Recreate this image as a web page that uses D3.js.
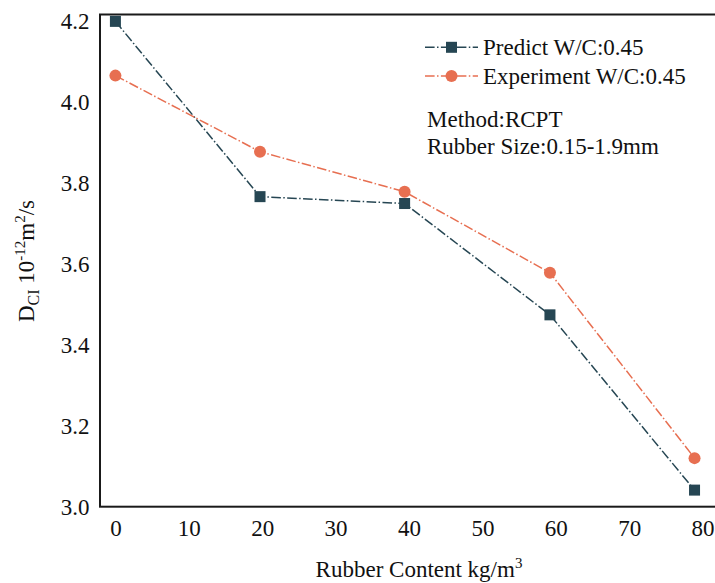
<!DOCTYPE html>
<html>
<head>
<meta charset="utf-8">
<script src="https://cdn.jsdelivr.net/npm/d3@7"></script>
<style>
  html, body { margin: 0; padding: 0; background: #fff; }
</style>
</head>
<body>
<svg id="chart" width="715" height="583" font-family="Liberation Serif"></svg>
<script>
// Rubber content (kg/m3) and chloride diffusion coefficient (1e-12 m2/s)
const rubberContent = [0, 19.7, 39.4, 59.2, 78.9];
const predictDCl = [4.199, 3.766, 3.749, 3.474, 3.041];
const experimentDCl = [4.065, 3.877, 3.778, 3.578, 3.120];
const xTicks = [0, 10, 20, 30, 40, 50, 60, 70, 80];
const yTicks = [3.0, 3.2, 3.4, 3.6, 3.8, 4.0, 4.2];
const seriesNames = ["Predict W/C:0.45", "Experiment W/C:0.45"];
const notes = ["Method:RCPT", "Rubber Size:0.15-1.9mm"];

const colPredict = "#264653";
const colExperiment = "#e76f51";
const serif = "Liberation Serif";

const svg = d3.select("#chart");
const plotLeft = 100, plotTop = 14.5, plotBottom = 506.7;

const x = d3.scaleLinear().domain([-2.1, 83]).range([plotLeft, plotLeft + 85.1 * 7.34]);
const y = d3.scaleLinear().domain([3.0, 4.216]).range([plotBottom, plotTop]);

const fs = 23;

// y tick labels
svg.append("g")
  .attr("transform", `translate(${plotLeft},0)`)
  .call(d3.axisLeft(y).tickValues(yTicks).tickFormat(d3.format(".1f")).tickSize(0).tickPadding(10.5))
  .call(g => g.select(".domain").remove())
  .call(g => g.attr("font-family", serif).attr("font-size", fs))
  .selectAll("text")
  .attr("fill", "#111");

// x tick labels
svg.append("g")
  .attr("transform", `translate(0,${plotBottom})`)
  .call(d3.axisBottom(x).tickValues(xTicks).tickFormat(d3.format("d")).tickSize(0).tickPadding(13))
  .call(g => g.select(".domain").remove())
  .call(g => g.attr("font-family", serif).attr("font-size", fs))
  .selectAll("text")
  .attr("fill", "#111");

// frame
svg.append("rect")
  .attr("x", plotLeft).attr("y", plotTop)
  .attr("width", 700).attr("height", plotBottom - plotTop)
  .attr("fill", "none").attr("stroke", "#1a1a1a").attr("stroke-width", 2);

const dashDot = "9.6,2.4,1.5,2.4";
const line = d3.line().x((d, i) => x(rubberContent[i])).y(d => y(d));

function drawSeries(vals, color, shape) {
  svg.append("path")
    .datum(vals)
    .attr("d", line)
    .attr("fill", "none")
    .attr("stroke", color)
    .attr("stroke-width", 1.5)
    .attr("stroke-dasharray", dashDot);
  const g = svg.append("g");
  vals.forEach((v, i) => {
    const cx = x(rubberContent[i]), cy = y(v);
    if (shape === "square") {
      g.append("rect").attr("x", cx - 5.5).attr("y", cy - 5.5)
        .attr("width", 11).attr("height", 11).attr("fill", color);
    } else {
      g.append("circle").attr("cx", cx).attr("cy", cy).attr("r", 6).attr("fill", color);
    }
  });
}
drawSeries(predictDCl, colPredict, "square");
drawSeries(experimentDCl, colExperiment, "circle");

// legend
const legend = svg.append("g");
[[colPredict, "square", 47.3], [colExperiment, "circle", 76]].forEach(([c, shape, ly], i) => {
  legend.append("line")
    .attr("x1", 425).attr("x2", 478).attr("y1", ly).attr("y2", ly)
    .attr("stroke", c).attr("stroke-width", 1.5).attr("stroke-dasharray", dashDot);
  if (shape === "square") {
    legend.append("rect").attr("x", 451.5 - 5.5).attr("y", ly - 5.5)
      .attr("width", 11).attr("height", 11).attr("fill", c);
  } else {
    legend.append("circle").attr("cx", 451.5).attr("cy", ly).attr("r", 6).attr("fill", c);
  }
  legend.append("text")
    .attr("x", 483).attr("y", ly + 7.5)
    .attr("font-family", serif).attr("font-size", fs).attr("fill", "#111")
    .text(seriesNames[i]);
});

notes.forEach((t, i) => {
  svg.append("text")
    .attr("x", 427).attr("y", 126.5 + i * 27.7)
    .attr("font-family", serif).attr("font-size", fs).attr("fill", "#111")
    .text(t);
});

// x axis title
const xt = svg.append("text")
  .attr("x", 419).attr("y", 577)
  .attr("text-anchor", "middle")
  .attr("font-family", serif).attr("font-size", fs).attr("fill", "#111");
xt.append("tspan").text("Rubber Content kg/m");
xt.append("tspan").attr("font-size", 15).attr("dy", -9).text("3");

// y axis title
const yt = svg.append("text")
  .attr("transform", "translate(34,261) rotate(-90)")
  .attr("text-anchor", "middle")
  .attr("font-family", serif).attr("font-size", fs).attr("fill", "#111");
yt.append("tspan").text("D");
yt.append("tspan").attr("font-size", 16).attr("dy", 5).text("CI");
yt.append("tspan").attr("dy", -5).text(" 10");
yt.append("tspan").attr("font-size", 15).attr("dy", -9).text("-12");
yt.append("tspan").attr("dy", 9).text("m");
yt.append("tspan").attr("font-size", 15).attr("dy", -9).text("2");
yt.append("tspan").attr("dy", 9).text("/s");
</script>
</body>
</html>
